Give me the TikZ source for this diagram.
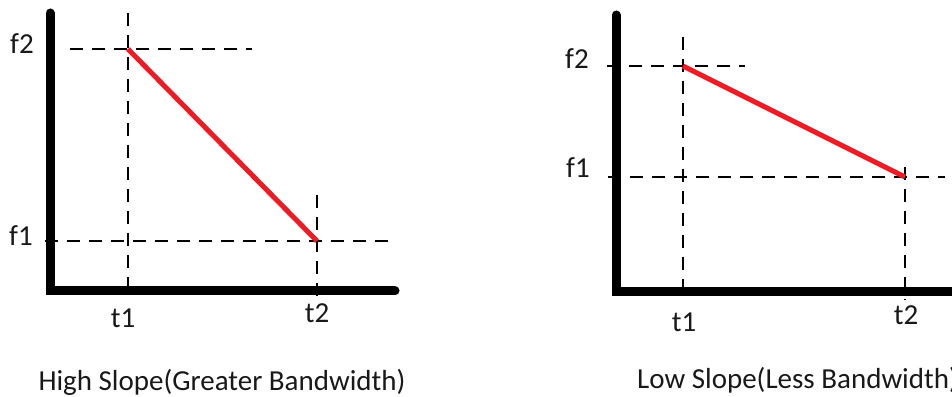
\documentclass[tikz,border=0pt]{standalone}
\usepackage{fontspec}
\setmainfont{Carlito}
\definecolor{slopered}{HTML}{ED1C24}
\tikzset{
  axisline/.style={line width=9pt, line cap=round, line join=miter},
  guide/.style={line width=1.4pt, dash pattern=on 13pt off 9pt},
  slope/.style={line width=5pt, slopered},
  lbl/.style={anchor=base, inner sep=0pt, font=\fontsize{29}{35}\selectfont, text=black!90}
}
\begin{document}
\begin{tikzpicture}[x=1pt,y=1pt]
    \useasboundingbox (0,0) rectangle (952,396);

    \coordinate (A1) at (50,383);
    \coordinate (O1) at (50,105);
    \coordinate (X1) at (395,105);
    \coordinate (P1) at (128,347);
    \coordinate (Q1) at (317,155);
    \coordinate (T1a) at (128,383);
    \coordinate (T1b) at (128,99);
    \coordinate (T2a) at (317,201);
    \coordinate (T2b) at (317,99);
    \coordinate (F2a) at (70,347);
    \coordinate (F2b) at (252,347);
    \coordinate (F1a) at (45,155);
    \coordinate (F1b) at (390,155);

    \coordinate (A2) at (616,381);
    \coordinate (O2) at (616,104);
    \coordinate (X2) at (960,104);
    \coordinate (P2) at (683,330);
    \coordinate (Q2) at (905,219);
    \coordinate (U1a) at (683,359);
    \coordinate (U1b) at (683,96);
    \coordinate (U2a) at (905,229);
    \coordinate (U2b) at (905,96);
    \coordinate (G2a) at (607,330);
    \coordinate (G2b) at (745,330);
    \coordinate (G1a) at (608,219);
    \coordinate (G1b) at (945,219);

    \draw[guide] (T1a) -- (T1b);
    \draw[guide] (T2a) -- (T2b);
    \draw[guide] (F2a) -- (F2b);
    \draw[guide] (F1a) -- (F1b);
    \draw[guide] (U1a) -- (U1b);
    \draw[guide] (U2a) -- (U2b);
    \draw[guide] (G2a) -- (G2b);
    \draw[guide] (G1a) -- (G1b);

    \draw[axisline] (A1) -- (O1) -- (X1);
    \draw[axisline] (A2) -- (O2) -- (X2);

    \draw[slope] (P1) -- (Q1);
    \draw[slope] (P2) -- (Q2);

    \node[lbl] (f2l) at (22,342) {f2};
    \node[lbl] (f1l) at (21,150) {f1};
    \node[lbl] (t1l) at (123,68) {t1};
    \node[lbl] (t2l) at (317,73) {t2};
    \node[lbl] (capl) at (222,6) {High Slope(Greater Bandwidth)};

    \node[lbl] (f2r) at (577,327) {f2};
    \node[lbl] (f1r) at (578,218) {f1};
    \node[lbl] (t1r) at (684,64) {t1};
    \node[lbl] (t2r) at (906,71) {t2};
    \node[lbl, anchor=base west] (capr) at (637,8) {Low Slope(Less Bandwidth)};
  \end{tikzpicture}
\end{document}
